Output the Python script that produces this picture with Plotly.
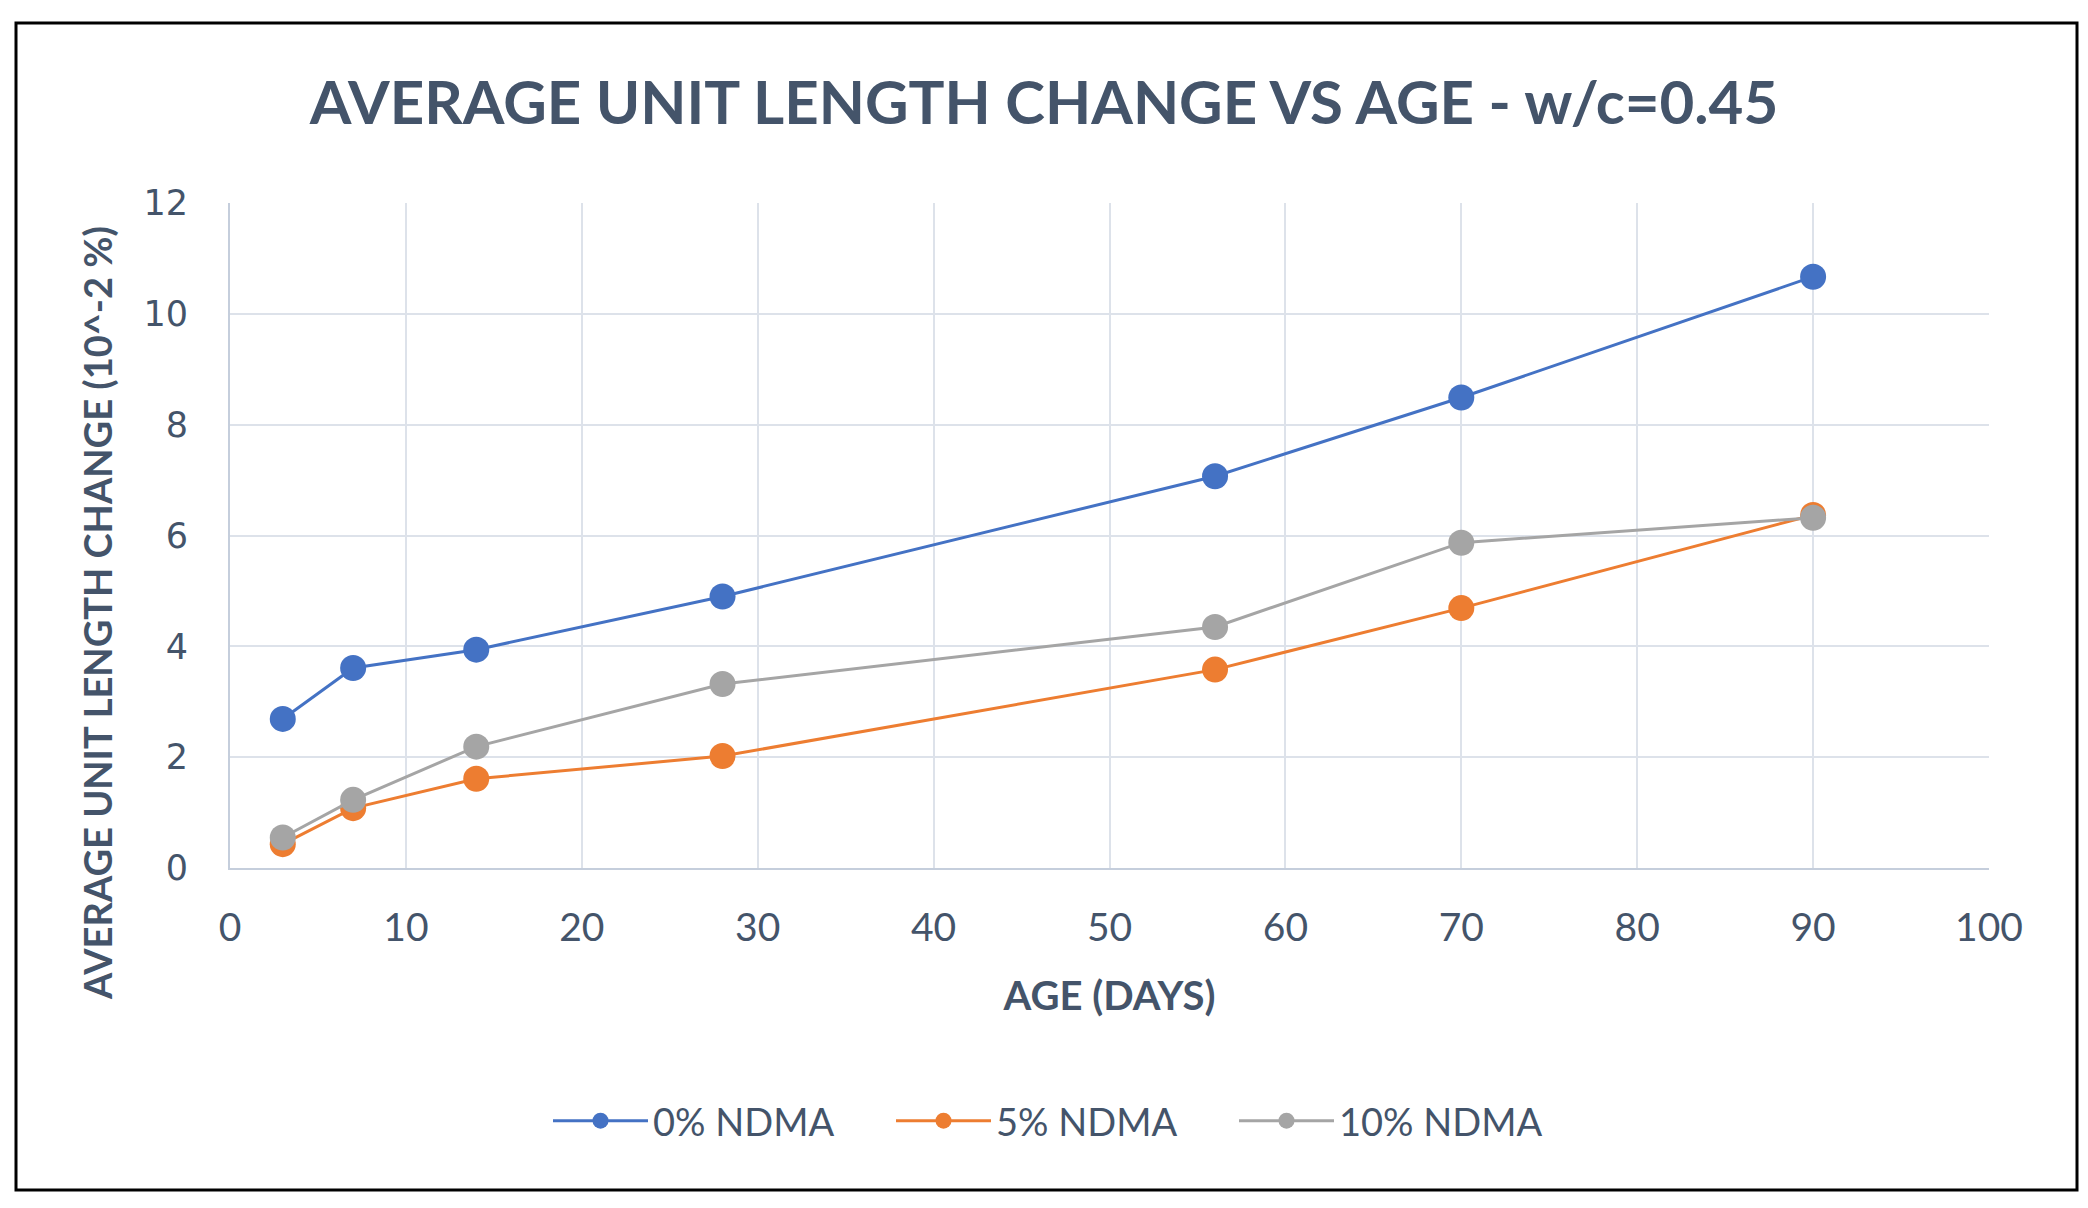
import plotly.graph_objects as go

ages = [3, 7, 14, 28, 56, 70, 90]
series_names = ["0% NDMA", "5% NDMA", "10% NDMA"]
ndma_0 = [2.69, 3.61, 3.94, 4.90, 7.07, 8.49, 10.67]
ndma_5 = [0.43, 1.08, 1.61, 2.02, 3.58, 4.69, 6.37]
ndma_10 = [0.55, 1.23, 2.19, 3.32, 4.35, 5.87, 6.32]
colors = ["#4472C4", "#ED7D31", "#A5A5A5"]
x_ticks = [0, 10, 20, 30, 40, 50, 60, 70, 80, 90, 100]
y_ticks = [0, 2, 4, 6, 8, 10, 12]
y_title = "AVERAGE UNIT LENGTH CHANGE (10^-2 %)"

OFF = 8  # page body margin
W, H = 2088 - OFF, 1208 - OFF
L, R, T, B = 230 - OFF, 99, 203 - OFF, 340
pw, ph = W - L - R, H - T - B

def px_x(p):
    return (p - OFF - L) / pw

def px_y(p):
    return (H - B - (p - OFF)) / ph

TXT = "#44546A"
fig = go.Figure()
for name, vals, c in zip(series_names, [ndma_0, ndma_5, ndma_10], colors):
    fig.add_trace(go.Scatter(
        x=ages, y=vals, name=name, mode="lines+markers",
        line=dict(color=c, width=3),
        marker=dict(color=c, size=26, line=dict(width=0)),
    ))

fig.update_layout(
    width=W, height=H,
    margin=dict(l=L, r=R, t=T, b=B),
    paper_bgcolor="white", plot_bgcolor="white",
    title=dict(text="<b>AVERAGE UNIT LENGTH CHANGE VS AGE - w/c=0.45</b>",
               x=px_x(1044), xanchor="center", y=1 - (103 - OFF) / H, yanchor="middle",
               xref="paper",
               font=dict(family="Lato", size=60, color=TXT)),
    font=dict(family="Lato", color=TXT),
    showlegend=True,
    legend=dict(orientation="h", x=px_x(548), xanchor="left",
                y=px_y(1121), yanchor="middle",
                font=dict(family="Lato", size=38, color=TXT),
                itemwidth=95, entrywidth=233, entrywidthmode="pixels"),
    shapes=[dict(type="rect", xref="paper", yref="paper",
                 x0=px_x(16), x1=px_x(2077), y0=px_y(1190), y1=px_y(23),
                 line=dict(color="black", width=3), layer="above")],
    annotations=[dict(text="<b>" + y_title + "</b>", textangle=-90,
                      xref="paper", yref="paper", x=px_x(97), y=px_y(613),
                      xanchor="center", yanchor="middle", showarrow=False,
                      font=dict(family="Lato", size=38, color=TXT))],
)
fig.update_xaxes(range=[0, 100], tickvals=x_ticks, showgrid=True,
                 gridcolor="#DDE2EA", gridwidth=2, zeroline=False,
                 showline=True, linecolor="#C5CEDC", linewidth=2,
                 ticks="", ticklabelstandoff=24,
                 tickfont=dict(family="Lato", size=39, color=TXT),
                 title=dict(text="<b>AGE (DAYS)</b>", standoff=34,
                            font=dict(family="Lato", size=40, color=TXT)))
fig.update_yaxes(range=[0, 12], tickvals=y_ticks, showgrid=True,
                 gridcolor="#DDE2EA", gridwidth=2, zeroline=False,
                 showline=True, linecolor="#C5CEDC", linewidth=2,
                 ticks="", ticklabelstandoff=33,
                 tickfont=dict(family="DejaVu Sans", size=35, color=TXT))

fig.write_html("out.html")
